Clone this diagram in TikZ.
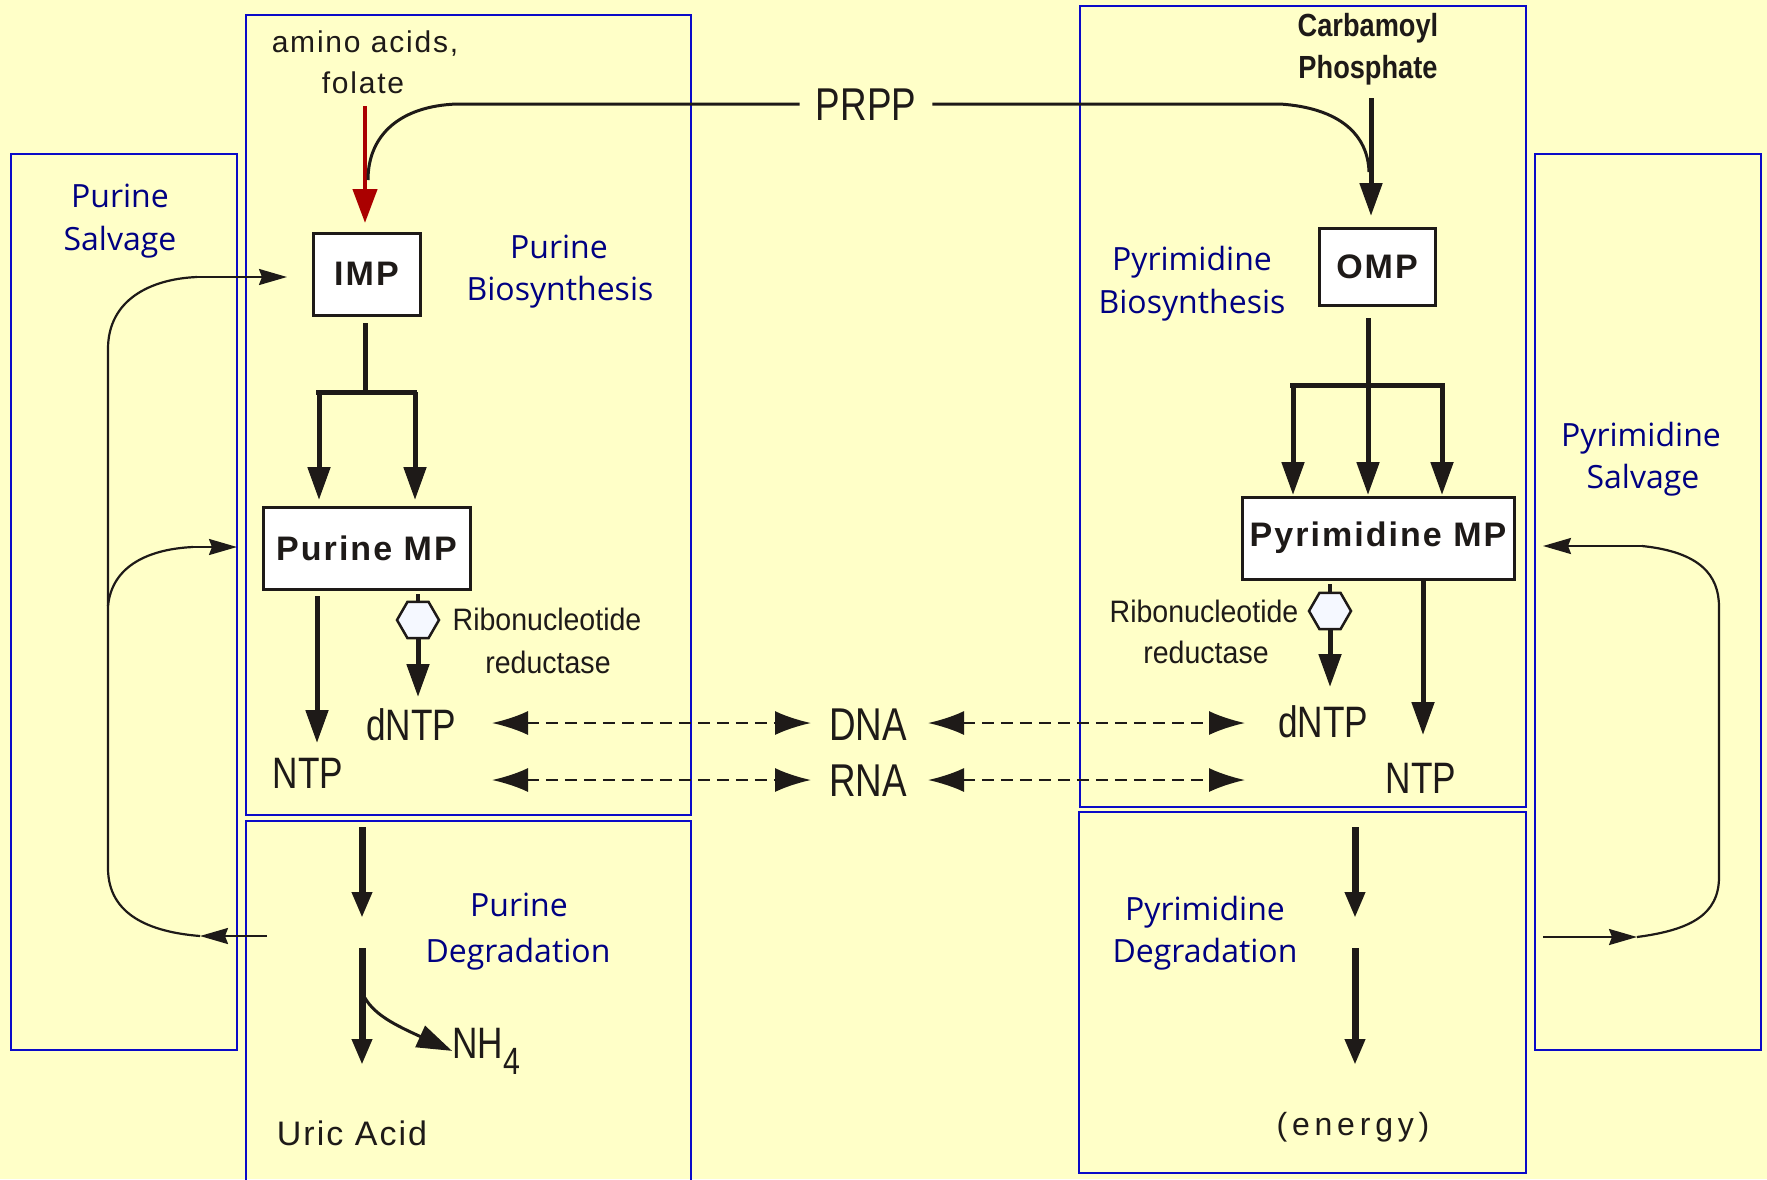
\documentclass[tikz,border=0pt]{standalone}
\usepackage{fontspec}
\setmainfont{Liberation Sans}
\newfontfamily\labfont{Open Sans}
\newfontfamily\narfont[FakeStretch=0.8]{Liberation Sans}
\newfontfamily\ribfont[FakeStretch=0.92]{Liberation Sans}
\newfontfamily\carbfont[FakeStretch=0.85]{Liberation Sans}
\newfontfamily\spcfont[LetterSpace=6]{Liberation Sans}
\usetikzlibrary{arrows.meta,shapes.geometric}
\newcommand\fsz[1]{\fontsize{#1}{#1}\selectfont}
\definecolor{bg}{RGB}{255,255,200}
\definecolor{boxblue}{RGB}{10,10,200}
\definecolor{labblue}{RGB}{0,0,130}
\definecolor{ink}{RGB}{30,26,24}
\definecolor{redarr}{RGB}{170,0,0}
\definecolor{hexfill}{RGB}{245,248,255}
\begin{document}
\begin{tikzpicture}[x=1pt,y=-1pt,
 region/.style={draw=boxblue,line width=2.2pt},
 mbox/.style={draw=ink,fill=white,line width=3pt,inner sep=0pt,text=ink},
 lab/.style={text=labblue,font=\labfont\fsz{32},anchor=base,inner sep=0pt},
 big/.style={text=ink,font=\narfont\fsz{44},anchor=base,inner sep=0pt},
 rib/.style={text=ink,font=\ribfont\fsz{31},anchor=base,inner sep=0pt},
 carb/.style={text=ink,font=\carbfont\bfseries\fsz{32},anchor=base,inner sep=0pt},
 spaced/.style={text=ink,font=\spcfont\fsz{30},anchor=base,inner sep=0pt},
 thickarr/.style={draw=ink,line width=5pt,-{Triangle[length=33pt,width=22pt]}},
 thickline/.style={draw=ink,line width=5pt},
 degarr/.style={draw=ink,line width=7pt,-{Triangle[length=26pt,width=19pt]}},
 dasharr/.style={draw=ink,line width=2.5pt,dash pattern=on 12pt off 7pt,{Latex[length=36pt,width=24pt]}-{Latex[length=36pt,width=24pt]}},
 thinline/.style={draw=ink,line width=2.2pt},
 thinarr/.style={draw=ink,line width=2.2pt,-{Stealth[length=28pt,width=16pt,inset=3pt]}},
 hexa/.style={regular polygon,regular polygon sides=6,minimum size=42pt,draw=ink,line width=2.5pt,fill=hexfill,inner sep=0pt},
]
\fill[bg] (0,0) rectangle (1767,1179);
\useasboundingbox (0,0) rectangle (1767,1179);
\clip (0,0) rectangle (1767,1179);

% regions
\draw[region] (246,15) rectangle (691,815);
\draw[region] (246,821) rectangle (691,1195);
\draw[region] (11,154) rectangle (237,1050);
\draw[region] (1080,6) rectangle (1526,807);
\draw[region] (1079,812) rectangle (1526,1173);
\draw[region] (1535,154) rectangle (1761,1050);

% region labels
\node[lab] (pb1) at (559,258) {Purine};
\node[lab] (pb2) at (560,300) {Biosynthesis};
\node[lab] (ps1) at (120,207) {Purine};
\node[lab] (ps2) at (120,250) {Salvage};
\node[lab] (pd1) at (519,916) {Purine};
\node[lab] (pd2) at (518,962) {Degradation};
\node[lab] (yb1) at (1192,270) {Pyrimidine};
\node[lab] (yb2) at (1192,313) {Biosynthesis};
\node[lab] (yd1) at (1205,920) {Pyrimidine};
\node[lab] (yd2) at (1205,962) {Degradation};
\node[lab] (ys1) at (1641,446) {Pyrimidine};
\node[lab] (ys2) at (1643,488) {Salvage};

% boxes
\node[mbox,minimum width=107pt,minimum height=82pt,font=\spcfont\bfseries\fsz{34}] (imp) at (366.5,274) {IMP};
\node[mbox,minimum width=207pt,minimum height=82pt,font=\spcfont\bfseries\fsz{34}] (pmp) at (366.5,548) {Purine MP};
\node[mbox,minimum width=116pt,minimum height=77pt,font=\spcfont\bfseries\fsz{34}] (omp) at (1377,266.5) {OMP};
\node[mbox,minimum width=272pt,minimum height=82pt,font=\spcfont\bfseries\fsz{34}] (ymp) at (1378,538) {Pyrimidine MP};

% text labels
\node[spaced] (aa1) at (365,52) {amino acids,};
\node[spaced] (aa2) at (363,93) {folate};
\node[carb] (cp1) at (1368,36) {Carbamoyl};
\node[carb] (cp2) at (1368,78) {Phosphate};
\node[big,font=\narfont\fsz{46},inner xsep=16pt] (prpp) at (866,120) {PRPP};
\node[big] (ntpL) at (308,788) {NTP};
\node[big] (dntpL) at (411,740) {dNTP};
\node[big,font=\narfont\fsz{46}] (dna) at (868,740) {DNA};
\node[big,font=\narfont\fsz{46}] (rna) at (868,796) {RNA};
\node[big] (dntpR) at (1323,737) {dNTP};
\node[big] (ntpR) at (1421,793) {NTP};
\node[rib] (rrL1) at (547,630) {Ribonucleotide};
\node[rib] (rrL2) at (548,673) {reductase};
\node[rib] (rrR1) at (1204,622) {Ribonucleotide};
\node[rib] (rrR2) at (1206,663) {reductase};
\node[big,anchor=base west] (nh4) at (452,1058) {NH\raisebox{-16pt}{\fsz{38}4}};
\node[spaced,font=\spcfont\fsz{34}] (uric) at (352,1145) {Uric Acid};
\node[spaced,font=\spcfont\addfontfeature{LetterSpace=15}\fsz{32}] (energy) at (1353,1135) {(energy)};

% hexagons (enzyme)
\node[hexa] (hexL) at (418,620) {};
\node[hexa] (hexR) at (1330,611) {};

% coordinates
\coordinate (redS) at (365,106);
\coordinate (redE) at (365,223);
\coordinate (prL0) at (368,180);
\coordinate (prL1) at (457,104);
\coordinate (prR1) at (1280,104);
\coordinate (prR0) at (1369,172);
\coordinate (cpS) at (1371,98);
\coordinate (cpE) at (1371,216);
% purine branch
\coordinate (ib0) at (365,323);
\coordinate (ib1) at (365,392);
\coordinate (ibL) at (316,392);
\coordinate (ibR) at (417,392);
\coordinate (ibLa) at (319,392);
\coordinate (ibRa) at (415,392);
\coordinate (ibLe) at (319,500);
\coordinate (ibRe) at (415,500);
% pyrimidine branch
\coordinate (ob0) at (1368,318);
\coordinate (obE) at (1368,495);
\coordinate (obL) at (1290,385);
\coordinate (obR) at (1445,385);
\coordinate (obLa) at (1293,385);
\coordinate (obRa) at (1442,385);
\coordinate (obLe) at (1293,495);
\coordinate (obRe) at (1442,495);
% purine MP outputs
\coordinate (pn0) at (317,596);
\coordinate (pn1) at (317,743);
\coordinate (hl0) at (418,594);
\coordinate (hl1) at (418,697);
% pyrimidine MP outputs
\coordinate (yn0) at (1423,579);
\coordinate (yn1) at (1423,735);
\coordinate (hr0) at (1330,584);
\coordinate (hr1) at (1330,687);
% dashed
\coordinate (dA) at (492,723);
\coordinate (dB) at (811,723);
\coordinate (dC) at (928,723);
\coordinate (dD) at (1245,723);
\coordinate (rA) at (492,780);
\coordinate (rB) at (811,780);
\coordinate (rC) at (928,780);
\coordinate (rD) at (1245,780);
% degradation
\coordinate (pd0) at (362,827);
\coordinate (pd1) at (362,918);
\coordinate (pd2) at (362,948);
\coordinate (pd3) at (362,1065);
\coordinate (nhS) at (365,998);
\coordinate (yd0) at (1355,827);
\coordinate (yd1) at (1355,918);
\coordinate (yd2) at (1355,948);
\coordinate (yd3) at (1355,1065);
% purine salvage
\coordinate (sOut) at (267,936);
\coordinate (sTip) at (200,936);
\coordinate (sTop) at (197,277);
\coordinate (sImp) at (287,277);
\coordinate (sMidV) at (108,606);
\coordinate (sMid) at (193,547);
\coordinate (sMidTip) at (237,547);
% pyrimidine salvage
\coordinate (ysTop) at (1642,546);
\coordinate (ysTopTip) at (1543,546);
\coordinate (ysIn) at (1543,937);
\coordinate (ysInTip) at (1637,937);

% red arrow
\draw[redarr,line width=4.5pt,-{Triangle[length=34pt,width=24pt]}] (redS) -- (redE);
% PRPP curves
\draw[ink,line width=3pt] (prL0) .. controls (368,135) and (400,106) .. (prL1) -- (prpp.west);
\draw[ink,line width=3pt] (prpp.east) -- (prR1) .. controls (1340,108) and (1368,135) .. (prR0);
\draw[thickarr] (cpS) -- (cpE);

% purine branch
\draw[thickline] (ib0) -- (ib1);
\draw[thickline] (ibL) -- (ibR);
\draw[thickarr] (ibLa) -- (ibLe);
\draw[thickarr] (ibRa) -- (ibRe);
% pyrimidine branch
\draw[thickline] (obL) -- (obR);
\draw[thickarr] (ob0) -- (obE);
\draw[thickarr] (obLa) -- (obLe);
\draw[thickarr] (obRa) -- (obRe);

% MP outputs
\draw[thickarr] (pn0) -- (pn1);
\draw[draw=ink,line width=4pt] (hl0) -- (hexL.north);
\draw[thickarr] (hexL.south) -- (hl1);
\draw[thickarr] (yn0) -- (yn1);
\draw[draw=ink,line width=4pt] (hr0) -- (hexR.north);
\draw[thickarr] (hexR.south) -- (hr1);

% dashed
\draw[dasharr] (dA) -- (dB);
\draw[dasharr] (dC) -- (dD);
\draw[dasharr] (rA) -- (rB);
\draw[dasharr] (rC) -- (rD);

% degradation
\draw[degarr] (pd0) -- (pd1);
\draw[degarr] (pd2) -- (pd3);
\draw[ink,line width=3pt,-{Triangle[length=35pt,width=23pt]}] (nhS) .. controls (375,1015) and (395,1025) .. (nh4.west);
\draw[degarr] (yd0) -- (yd1);
\draw[degarr] (yd2) -- (yd3);

% purine salvage
\draw[thinarr] (sOut) -- (sTip);
\draw[thinline] (sTip) .. controls (150,932) and (108,915) .. (108,868) -- (108,349) .. controls (108,300) and (150,279) .. (sTop);
\draw[thinarr] (sTop) -- (sImp);
\draw[thinline] (sMidV) .. controls (112,565) and (150,549) .. (sMid);
\draw[thinarr] (sMid) -- (sMidTip);

% pyrimidine salvage
\draw[thinarr] (ysTop) -- (ysTopTip);
\draw[thinline] (ysTop) .. controls (1700,552) and (1719,575) .. (1719,607) -- (1719,877) .. controls (1719,915) and (1690,930) .. (ysInTip);
\draw[thinarr] (ysIn) -- (ysInTip);
\end{tikzpicture}
\end{document}
